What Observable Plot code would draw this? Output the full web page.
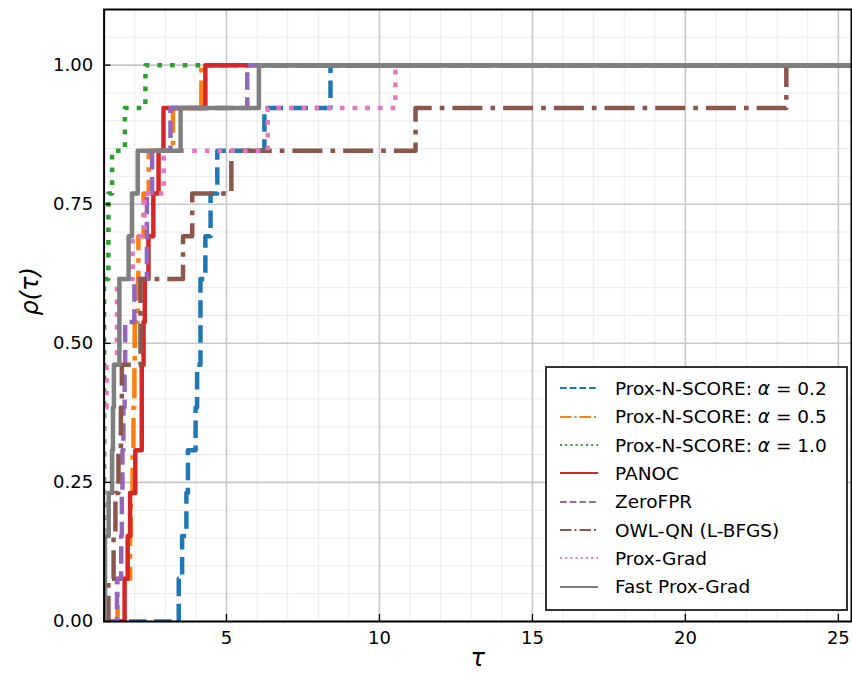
<!DOCTYPE html>
<html><head><meta charset="utf-8">
<script src="https://cdn.jsdelivr.net/npm/d3@7"></script>
<script src="https://cdn.jsdelivr.net/npm/@observablehq/plot@0.6"></script>
<style>
body{margin:0;background:#fff;font-family:"DejaVu Sans",sans-serif;}
#wrap{position:relative;width:852px;height:677px;overflow:hidden;}
#legend{position:absolute;left:545px;top:366px;width:299px;height:241px;border:2px solid #333;background:#fff;}
.row{position:absolute;left:0;height:28px;display:flex;align-items:center;font-size:18.5px;color:#000;white-space:nowrap;}
.row svg{margin-left:13px;margin-right:17px;}
</style></head>
<body><div id="wrap"></div>
<script>
// performance-profile data: sorted performance ratios per solver (13 problems)
const nProblems = 13;
const seriesNames = ["Prox-N-SCORE: α = 0.2","Prox-N-SCORE: α = 0.5","Prox-N-SCORE: α = 1.0","PANOC","ZeroFPR","OWL-QN (L-BFGS)","Prox-Grad","Fast Prox-Grad"];
const seriesColors = ["#1f77b4","#ff7f0e","#2ca02c","#d62728","#9467bd","#8c564b","#e377c2","#7f7f7f"];
const seriesStyles = ["dashed","dashdot","dotted","solid","dashed","dashdot","dotted","solid"];
const ratiosAlpha02 = [3.44,3.55,3.69,3.74,3.99,4.04,4.15,4.15,4.31,4.48,4.70,6.24,8.40];
const ratiosAlpha05 = [1.44,1.85,1.87,1.93,1.96,1.99,2.00,2.11,2.12,2.29,2.46,3.25,4.18];
const ratiosAlpha10 = [1,1,1,1,1,1,1,1,1.14,1.14,1.26,1.68,2.35];
const ratiosPANOC = [1.67,1.77,1.85,2.02,2.23,2.23,2.29,2.33,2.45,2.61,2.78,2.94,4.31];
const ratiosZeroFPR = [1.42,1.56,1.58,1.60,1.63,1.67,1.69,1.99,2.40,2.40,2.57,3.17,5.68];
const ratiosOWLQN = [1.14,1.31,1.37,1.47,1.55,1.58,2.19,2.19,3.58,3.88,5.16,11.18,23.30];
const ratiosProxGrad = [1,1,1,1,1,1.08,1.42,1.42,1.93,2.32,2.95,6.35,10.52];
const ratiosFastProxGrad = [1.03,1.03,1.15,1.26,1.29,1.32,1.50,1.50,1.80,1.91,2.10,3.50,6.06];
const allRatios = [ratiosAlpha02,ratiosAlpha05,ratiosAlpha10,ratiosPANOC,ratiosZeroFPR,ratiosOWLQN,ratiosProxGrad,ratiosFastProxGrad];
const xTicks = [5,10,15,20,25];
const yTicks = [0,0.25,0.5,0.75,1.0];
const xDomain = [1, 25.43];
const yDomain = [0, 1.1];

const W = 852, H = 677, mL = 103.6, mR = 1, mT = 9, mB = 56;
const plotW = W - mL - mR, plotH = H - mT - mB;
const minorX = d3.range(1, 26).filter(v => !xTicks.includes(v));
const minorY = d3.range(0, 23).map(i => +(i*0.05).toFixed(2)).filter(v => !yTicks.includes(v));

const dashMain = {solid: null, dashed: "17.5,7.5", dashdot: "30,8,4.7,8", dotted: "4.7,8"};
const dashLegend = {solid: null, dashed: "6.7,3", dashdot: "11.5,3,2,3", dotted: "2,3.2"};

const lineMarks = allRatios.map((r, s) => {
  const pts = [{x: xDomain[0], y: 0}, ...r.map((v, i) => ({x: v, y: (i + 1) / nProblems})), {x: xDomain[1], y: 1}];
  return Plot.line(pts, {x: "x", y: "y", curve: "step-after", stroke: seriesColors[s], strokeWidth: 4.5,
    strokeDasharray: dashMain[seriesStyles[s]], strokeLinejoin: "round", strokeLinecap: "butt", clip: true});
});

const chart = Plot.plot({
  width: W, height: H, marginLeft: mL, marginRight: mR, marginTop: mT, marginBottom: mB,
  style: {fontFamily: "DejaVu Sans", fontSize: "18px", background: "white", color: "black"},
  x: {domain: xDomain},
  y: {domain: yDomain},
  marks: [
    Plot.gridX(minorX, {stroke: "#ececec", strokeOpacity: 1, strokeWidth: 1}),
    Plot.gridY(minorY, {stroke: "#ececec", strokeOpacity: 1, strokeWidth: 1}),
    Plot.gridX(xTicks, {stroke: "#c8c8c8", strokeOpacity: 1, strokeWidth: 1.6}),
    Plot.gridY(yTicks, {stroke: "#c8c8c8", strokeOpacity: 1, strokeWidth: 1.6}),
    ...lineMarks,
    Plot.frame({stroke: "black", strokeWidth: 2}),
    Plot.tickX(xTicks, {x: d => d, insetTop: plotH - 7, stroke: "black", strokeWidth: 1.3}),
    Plot.tickY(yTicks, {y: d => d, insetRight: plotW - 7, stroke: "black", strokeWidth: 1.3}),
    Plot.axisX(xTicks, {tickSize: 0, tickPadding: 10, fontSize: 18, tickFormat: d => String(d), label: null}),
    Plot.axisY(yTicks, {tickSize: 0, tickPadding: 11, fontSize: 18, tickFormat: d3.format(".2f"), label: null}),
    Plot.text(["ρ(τ)"], {frameAnchor: "left", dx: -74, rotate: -90, fontSize: 24, fontStyle: "italic", fill: "black"}),
    Plot.text(["τ"], {frameAnchor: "bottom", dy: 44, fontSize: 24, fontStyle: "italic", fill: "black"})
  ]
});
const wrap = document.getElementById("wrap");
wrap.appendChild(chart);

// legend
const leg = document.createElement("div");
leg.id = "legend";
seriesNames.forEach((name, s) => {
  const row = document.createElement("div");
  row.className = "row";
  row.style.top = (20.3 + 28.35 * s - 14) + "px";
  const dash = dashLegend[seriesStyles[s]];
  const svg = `<svg width="38" height="10"><line x1="0" x2="38" y1="5" y2="5" stroke="${seriesColors[s]}" stroke-width="2" ${dash ? `stroke-dasharray="${dash}"` : ""}/></svg>`;
  const label = name.replace("α", "<i>α</i>");
  row.innerHTML = svg + `<span>${label}</span>`;
  leg.appendChild(row);
});
wrap.appendChild(leg);
</script>
</body></html>
